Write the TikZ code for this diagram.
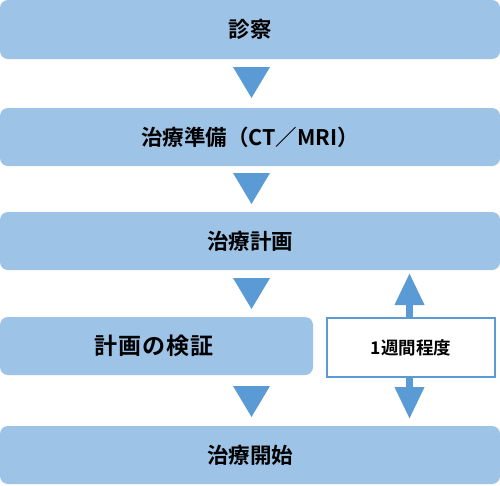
\documentclass[tikz,border=0pt]{standalone}
\usepackage{fontspec}
\setmainfont{Noto Sans CJK JP}[BoldFont={* Bold}]
\usetikzlibrary{arrows.meta}
\definecolor{boxblue}{HTML}{9DC3E6}
\definecolor{arrowblue}{HTML}{5B9BD5}
\begin{document}
\begin{tikzpicture}[x=1pt,y=-1pt,
  stepbox/.style={fill=boxblue,rounded corners=8pt},
  steptext/.style={font=\fontsize{21.5}{24}\selectfont\bfseries,text=black},
  widetext/.style={font=\fontsize{23}{25}\selectfont\bfseries\addfontfeature{LetterSpace=4},text=black},
  downtri/.style={fill=arrowblue},
  notebox/.style={draw=arrowblue,line width=1.5pt,fill=white},
  notetext/.style={font=\fontsize{17.5}{20}\selectfont\bfseries,text=black}]
\useasboundingbox (0,0) rectangle (500,485);
% boxes
\fill[stepbox] (0,0) rectangle (500,59);
\node[steptext] (t1) at (250,29.5) {診察};
\fill[stepbox] (0,108) rectangle (500,166);
\node[steptext] (t2) at (250,137) {治療準備（CT／MRI）};
\fill[stepbox] (0,212) rectangle (500,270);
\node[steptext] (t3) at (250,241) {治療計画};
\fill[stepbox] (0,317) rectangle (313,375);
\node[widetext] (t4) at (154,346) {計画の検証};
\fill[stepbox] (0,426) rectangle (500,484);
\node[steptext] (t5) at (250,455) {治療開始};
% down triangles
\fill[downtri] (233,67) -- (270,67) -- (251.5,98) -- cycle;
\fill[downtri] (233,173) -- (270,173) -- (251.5,204) -- cycle;
\fill[downtri] (233,278) -- (270,278) -- (251.5,309) -- cycle;
\fill[downtri] (233,386) -- (270,386) -- (251.5,417) -- cycle;
% double arrow
\coordinate (up) at (409.5,273);
\coordinate (dn) at (409.5,419);
\draw[arrowblue,line width=7pt,{Triangle[width=28pt,length=32pt]}-{Triangle[width=28pt,length=32pt]}] (up) -- (dn);
% note box
\node[notebox,minimum width=168pt,minimum height=59pt,inner sep=0pt] (note) at (411,347.5) {};
\node[notetext] (nt) at (note.center) {1週間程度};
\end{tikzpicture}
\end{document}
